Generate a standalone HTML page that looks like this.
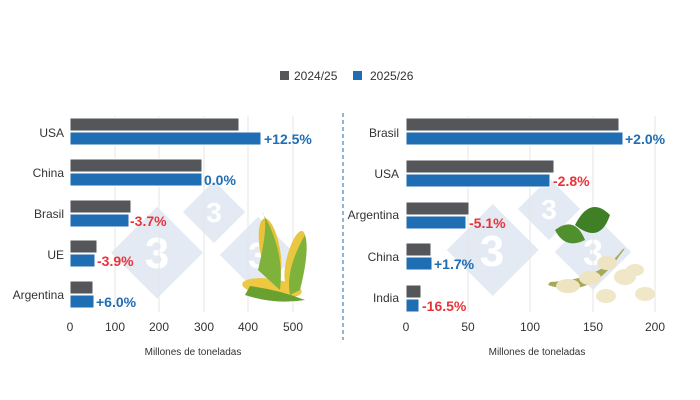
<!DOCTYPE html>
<html><head><meta charset="utf-8"><style>
body{margin:0;background:#fff}
svg{display:block;font-family:"Liberation Sans",Arial,sans-serif}
</style></head><body>
<svg width="700" height="400" viewBox="0 0 700 400">
<!-- watermarks -->
<g fill="#e3eaf3">
<rect x="125" y="220" width="65" height="65" transform="rotate(45 157 252)"/>
<rect x="192" y="190" width="44" height="44" transform="rotate(45 214 212)"/>
<rect x="231" y="228" width="54" height="54" transform="rotate(45 258 255)"/>
<rect x="460" y="217" width="65" height="65" transform="rotate(45 492 250)"/>
<rect x="527" y="187" width="44" height="44" transform="rotate(45 549 209)"/>
<rect x="566" y="225" width="54" height="54" transform="rotate(45 593 252)"/>
</g>
<g fill="#fff" font-weight="bold" text-anchor="middle">
<text x="157" y="268" font-size="44">3</text><text x="214" y="222" font-size="28">3</text><text x="258" y="268" font-size="36">3</text>
<text x="492" y="266" font-size="44">3</text><text x="549" y="219" font-size="28">3</text><text x="593" y="265" font-size="36">3</text>
</g>
<!-- legend -->
<rect x="280" y="71" width="9" height="9" fill="#54565a"/>
<text x="294" y="80" font-size="12" fill="#333">2024/25</text>
<rect x="353" y="71" width="9" height="9" fill="#1f6db3"/>
<text x="370" y="80" font-size="12" fill="#333">2025/26</text>
<!-- divider -->
<line x1="343" y1="113" x2="343" y2="340" stroke="#1f6db3" stroke-dasharray="4,3"/>
<!-- grid -->
<g stroke="#e6e6e6">
<line x1="115" y1="116" x2="115" y2="312"/><line x1="159" y1="116" x2="159" y2="312"/><line x1="204" y1="116" x2="204" y2="312"/><line x1="248" y1="116" x2="248" y2="312"/><line x1="293" y1="116" x2="293" y2="312"/>
<line x1="468" y1="116" x2="468" y2="312"/><line x1="530" y1="116" x2="530" y2="312"/><line x1="593" y1="116" x2="593" y2="312"/><line x1="655" y1="116" x2="655" y2="312"/>
</g>
<!-- corn -->
<g>
<ellipse cx="270" cy="250" rx="10" ry="32" fill="#e9c23a" transform="rotate(-10 270 250)"/>
<ellipse cx="295" cy="258" rx="8" ry="28" fill="#e8c840" transform="rotate(15 295 258)"/>
<ellipse cx="272" cy="288" rx="30" ry="9" fill="#edc840" transform="rotate(8 272 288)"/>
<path d="M258 270 Q270 220 262 212 Q285 250 280 290Z M300 290 Q310 250 305 235 Q285 270 290 295Z" fill="#7fb23a"/>
<path d="M245 295 Q275 305 305 300 Q280 290 250 286Z" fill="#6aa030"/>
</g>
<!-- soy -->
<g>
<path d="M555 230 Q575 215 585 240 Q565 250 555 230Z" fill="#4f8f2e"/>
<path d="M575 225 Q590 195 610 215 Q600 245 575 225Z" fill="#3f7f25"/>
<path d="M548 285 Q590 300 620 255 Q628 245 622 250 Q600 280 550 282Z" fill="#a6a85a"/>
<ellipse cx="568" cy="286" rx="12" ry="7" fill="#efe4c2"/><ellipse cx="590" cy="278" rx="11" ry="7" fill="#efe4c2"/><ellipse cx="607" cy="263" rx="10" ry="7" fill="#efe4c2"/>
<ellipse cx="625" cy="277" rx="11" ry="8" fill="#f0e6c8"/><ellipse cx="645" cy="294" rx="10" ry="7" fill="#f0e6c8"/><ellipse cx="606" cy="296" rx="10" ry="7" fill="#f0e6c8"/><ellipse cx="635" cy="270" rx="9" ry="6" fill="#f0e6c8"/>
</g>
<!-- left bars -->
<g stroke="#fff" stroke-width="1">
<rect x="70" y="118" width="169" height="13" fill="#54565a"/><rect x="70" y="132" width="191" height="13" fill="#1f6db3"/>
<rect x="70" y="159" width="132" height="13" fill="#54565a"/><rect x="70" y="173" width="132" height="13" fill="#1f6db3"/>
<rect x="70" y="200" width="61" height="13" fill="#54565a"/><rect x="70" y="214" width="59" height="13" fill="#1f6db3"/>
<rect x="70" y="240" width="27" height="13" fill="#54565a"/><rect x="70" y="254" width="25" height="13" fill="#1f6db3"/>
<rect x="70" y="281" width="23" height="13" fill="#54565a"/><rect x="70" y="295" width="24" height="13" fill="#1f6db3"/>
</g>
<g font-size="14" font-weight="bold">
<text x="264" y="144" fill="#1f6db3">+12.5%</text>
<text x="204" y="185" fill="#1f6db3">0.0%</text>
<text x="130" y="226" fill="#e8333a">-3.7%</text>
<text x="97" y="266" fill="#e8333a">-3.9%</text>
<text x="96" y="307" fill="#1f6db3">+6.0%</text>
</g>
<g font-size="12" fill="#333" text-anchor="end">
<text x="64" y="137">USA</text><text x="64" y="177">China</text><text x="64" y="218">Brasil</text><text x="64" y="259">UE</text><text x="64" y="299">Argentina</text>
</g>
<g font-size="12" fill="#333" text-anchor="middle">
<text x="70" y="331">0</text><text x="115" y="331">100</text><text x="159" y="331">200</text><text x="204" y="331">300</text><text x="248" y="331">400</text><text x="293" y="331">500</text>
<text x="193" y="355" font-size="10">Millones de toneladas</text>
</g>
<!-- right bars -->
<g stroke="#fff" stroke-width="1">
<rect x="406" y="118" width="213" height="13" fill="#54565a"/><rect x="406" y="132" width="217" height="13" fill="#1f6db3"/>
<rect x="406" y="160" width="148" height="13" fill="#54565a"/><rect x="406" y="174" width="144" height="13" fill="#1f6db3"/>
<rect x="406" y="202" width="63" height="13" fill="#54565a"/><rect x="406" y="216" width="60" height="13" fill="#1f6db3"/>
<rect x="406" y="243" width="25" height="13" fill="#54565a"/><rect x="406" y="257" width="26" height="13" fill="#1f6db3"/>
<rect x="406" y="285" width="15" height="13" fill="#54565a"/><rect x="406" y="299" width="13" height="13" fill="#1f6db3"/>
</g>
<g font-size="14" font-weight="bold">
<text x="625" y="144" fill="#1f6db3">+2.0%</text>
<text x="553" y="186" fill="#e8333a">-2.8%</text>
<text x="469" y="228" fill="#e8333a">-5.1%</text>
<text x="434" y="269" fill="#1f6db3">+1.7%</text>
<text x="422" y="311" fill="#e8333a">-16.5%</text>
</g>
<g font-size="12" fill="#333" text-anchor="end">
<text x="399" y="137">Brasil</text><text x="399" y="178">USA</text><text x="399" y="219">Argentina</text><text x="399" y="261">China</text><text x="399" y="302">India</text>
</g>
<g font-size="12" fill="#333" text-anchor="middle">
<text x="406" y="331">0</text><text x="468" y="331">50</text><text x="530" y="331">100</text><text x="593" y="331">150</text><text x="655" y="331">200</text>
<text x="537" y="355" font-size="10">Millones de toneladas</text>
</g>
</svg>
</body></html>
